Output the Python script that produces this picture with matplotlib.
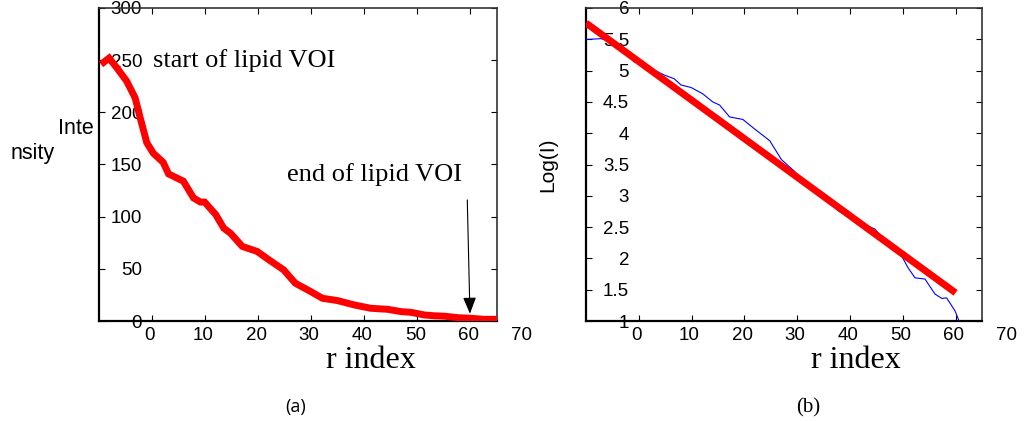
import numpy as np
import matplotlib
matplotlib.use('Agg')
import matplotlib.pyplot as plt

plt.rcParams['font.family'] = 'Liberation Sans'

# radial intensity profile (a)
r_idx = [-9.1, -8.1, -6.7, -4.8, -3.2, -2.3, -1.0, 0.2, 2.1, 3.1, 5.9, 7.8, 9.1, 9.9,
         12.0, 13.5, 14.8, 17.0, 19.8, 22.0, 24.8, 27.0, 29.9, 32.1, 34.9, 38.1, 41.2,
         44.4, 46.9, 48.8, 51.3, 53.2, 55.1, 57.6, 60.1, 62.6, 65.0]
intensity = [248, 252, 243, 230, 214, 196, 171, 161, 152, 141, 134, 118, 114, 114,
             102, 89, 84, 71.5, 66.7, 58.7, 49, 36.2, 28.2, 21.8, 19.6, 15.4, 12.2,
             11.2, 9.0, 8.3, 5.8, 5.0, 4.6, 3.2, 2.6, 1.6, 1.6]

# log intensity (b) and its linear fit
r_log = [-9.9, -9.4, -7.2, -5.0, -2.2, -0.9, 1.6, 4.8, 6.7, 8.0, 9.9, 12.1, 14.0, 15.3,
         17.2, 19.7, 21.9, 24.8, 27.0, 29.5, 32.1, 34.6, 37.8, 40.9, 44.7, 46.6, 48.8,
         51.0, 52.3, 54.2, 56.1, 57.4, 58.3, 59.9, 60.8]
log_i = [5.50, 5.50, 5.51, 5.46, 5.27, 5.14, 5.06, 4.93, 4.87, 4.77, 4.73, 4.63, 4.50, 4.45,
         4.26, 4.22, 4.07, 3.88, 3.58, 3.39, 3.14, 3.03, 2.76, 2.60, 2.47, 2.28, 2.19,
         1.85, 1.69, 1.67, 1.43, 1.36, 1.37, 1.16, 0.97]
fit_r = [-10, 60]
fit_log = [5.76, 1.45]

x_ticks = [0, 10, 20, 30, 40, 50, 60, 70]
y_ticks_a = [0, 50, 100, 150, 200, 250, 300]
y_ticks_b = [1, 1.5, 2, 2.5, 3, 3.5, 4, 4.5, 5, 5.5, 6]
y_labels_b = ['1', '1.5', '2', '2.5', '3', '3.5', '4', '4.5', '5', '5.5', '6']

fig = plt.figure(figsize=(10.28, 4.21), dpi=100)
ax1 = fig.add_axes([99 / 1028, 100 / 421, 398 / 1028, 313 / 421])
ax2 = fig.add_axes([586 / 1028, 100 / 421, 396 / 1028, 313 / 421])


def style_axes(ax, yticks, ylabels, ylim):
    ax.set_xlim(-10, 65)
    ax.set_ylim(*ylim)
    ax.set_xticks([t for t in x_ticks if t <= 65])
    ax.set_xticklabels([])
    ax.set_yticks(yticks)
    ax.set_yticklabels(ylabels, fontsize=13.5)
    ax.tick_params(axis='x', direction='in', length=4, top=True, bottom=True, width=0.8)
    ax.tick_params(axis='y', direction='in', length=4, left=True, right=True, width=0.8, pad=-31)
    for s in ['left', 'bottom']:
        ax.spines[s].set_linewidth(1.6)
        ax.spines[s].set_color('black')
    for s in ['right', 'top']:
        ax.spines[s].set_linewidth(1.2)
        ax.spines[s].set_color('#333333')
    # x tick labels, including the one past the right edge
    for t in x_ticks:
        ax.text(t - 0.4, -0.045, str(t), transform=ax.get_xaxis_transform(),
                ha='center', va='center', fontsize=13.5, clip_on=False)


style_axes(ax1, y_ticks_a, [str(v) for v in y_ticks_a], (0, 300))
ax1.plot(r_idx, intensity, color='red', lw=5, zorder=3, solid_joinstyle='miter')
ax1.text(0.2, 243, 'start of lipid VOI', family='Liberation Serif', fontsize=19, va='baseline')
ax1.text(25.5, 134, 'end of lipid VOI', family='Liberation Serif', fontsize=19, va='baseline')
ax1.annotate('', xy=(59.9, 7), xytext=(59.4, 116),
             arrowprops=dict(arrowstyle='-|>,head_length=1.0,head_width=0.4',
                             color='black', lw=0.8, shrinkA=0, shrinkB=0))

style_axes(ax2, y_ticks_b, y_labels_b, (1, 6))
ax2.plot(r_log, log_i, color='#0000ff', lw=0.8, zorder=3)
ax2.plot(fit_r, fit_log, color='red', lw=5, zorder=4, solid_capstyle='butt')

# axis labels
fig.text(94 / 1028, 1 - 128 / 421, 'Inte', ha='right', va='center', fontsize=15.5)
fig.text(55 / 1028, 1 - 154 / 421, 'nsity', ha='right', va='center', fontsize=15.5)
fig.text(548 / 1028, 1 - 165 / 421, 'Log(I)', ha='center', va='center', fontsize=15, rotation=90)
fig.text(371 / 1028, 1 - 360 / 421, 'r index', ha='center', va='center',
         family='Liberation Serif', fontsize=23)
fig.text(856 / 1028, 1 - 360 / 421, 'r index', ha='center', va='center',
         family='Liberation Serif', fontsize=23)
fig.text(296 / 1028, 1 - 407 / 421, '(a)', ha='center', va='center', family='Open Sans', fontsize=13)
fig.text(808 / 1028, 1 - 408 / 421, '(b)', ha='center', va='center',
         family='Liberation Serif', fontsize=15)

fig.savefig('out.png', dpi=100)
